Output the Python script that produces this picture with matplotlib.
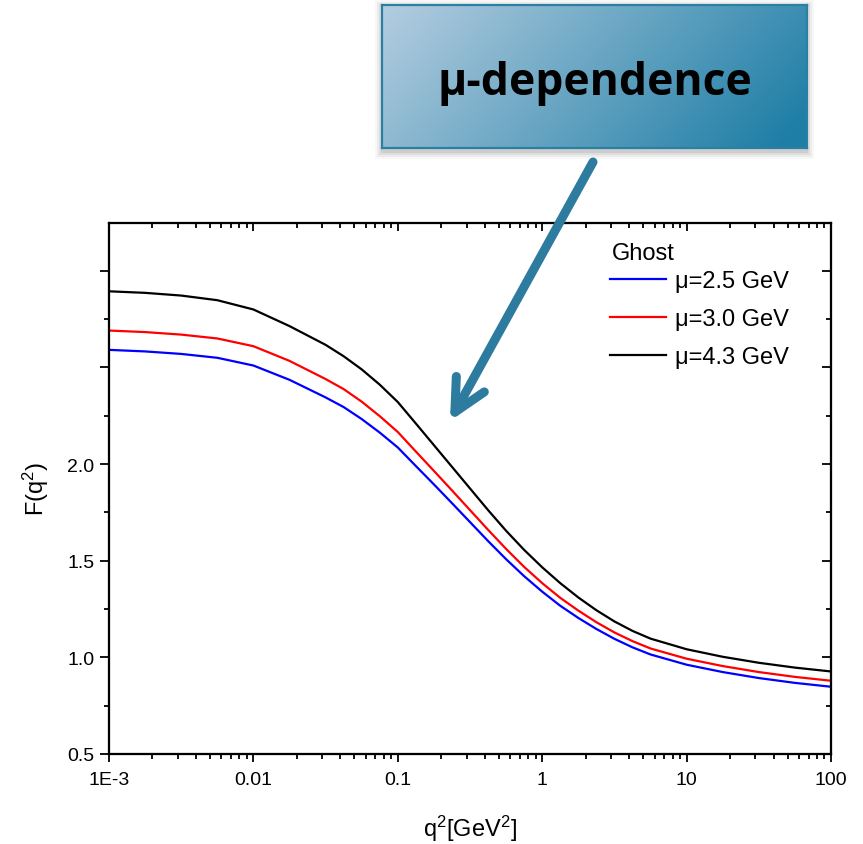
import numpy as np
import matplotlib
matplotlib.use("Agg")
import matplotlib.pyplot as plt
from matplotlib.patches import Rectangle, FancyArrowPatch, ArrowStyle
from matplotlib.ticker import LogLocator, NullFormatter

plt.rcParams['font.family'] = ['Liberation Sans', 'DejaVu Sans']
plt.rcParams['mathtext.default'] = 'regular'

# ghost dressing function F(q^2) for three renormalisation scales
log_q2 = [-3, -2.75, -2.5, -2.25, -2, -1.75, -1.5, -1.375, -1.25, -1.125, -1,
          -0.875, -0.75, -0.625, -0.5, -0.375, -0.25, -0.125, 0, 0.125, 0.25,
          0.375, 0.5, 0.625, 0.75, 1, 1.25, 1.5, 1.75, 2]
F_mu25 = [2.591, 2.583, 2.570, 2.550, 2.510, 2.436, 2.345, 2.295, 2.233, 2.163, 2.086,
          1.990, 1.895, 1.798, 1.700, 1.602, 1.508, 1.420, 1.340, 1.267, 1.204,
          1.147, 1.096, 1.052, 1.015, 0.962, 0.924, 0.893, 0.868, 0.848]
F_mu30 = [2.691, 2.683, 2.670, 2.650, 2.610, 2.534, 2.440, 2.388, 2.323, 2.248, 2.166,
          2.065, 1.965, 1.864, 1.762, 1.660, 1.561, 1.468, 1.384, 1.308, 1.242,
          1.182, 1.129, 1.084, 1.046, 0.993, 0.955, 0.924, 0.899, 0.879]
F_mu43 = [2.894, 2.886, 2.872, 2.848, 2.800, 2.714, 2.617, 2.558, 2.490, 2.411, 2.321,
          2.210, 2.098, 1.986, 1.874, 1.762, 1.655, 1.556, 1.466, 1.384, 1.310,
          1.244, 1.186, 1.137, 1.097, 1.042, 1.003, 0.972, 0.947, 0.927]
labels = ['\u03bc=2.5 GeV', '\u03bc=3.0 GeV', '\u03bc=4.3 GeV']
colors = ['#0000ff', '#ff0000', '#000000']

xticks = [1e-3, 1e-2, 1e-1, 1, 10, 100]
xticklabels = ['1E-3', '0.01', '0.1', '1', '10', '100']
yticks = [0.5, 1.0, 1.5, 2.0, 2.5, 3.0]
yticklabels = ['0.5', '1.0', '1.5', '2.0', '', '']

q2 = 10.0 ** np.array(log_q2)

W, H = 863, 845
fig = plt.figure(figsize=(W / 100, H / 100), dpi=100)
ax = fig.add_axes([109 / W, 1 - 755 / H, (831 - 109) / W, (755 - 223.5) / H])

for ys, lab, c in zip([F_mu25, F_mu30, F_mu43], labels, colors):
    ax.plot(q2, ys, color=c, lw=1.6, label=lab)

ax.set_xscale('log')
ax.set_xlim(1e-3, 100)
ax.set_ylim(0.5, 3.25)
ax.set_xticks(xticks)
ax.set_xticklabels(xticklabels)
ax.xaxis.set_minor_locator(LogLocator(base=10, subs=np.arange(2, 10) * 1.0, numticks=50))
ax.xaxis.set_minor_formatter(NullFormatter())
ax.set_yticks(yticks)
ax.set_yticklabels(yticklabels)
ax.set_yticks(np.arange(0.75, 3.25, 0.5), minor=True)

for s in ax.spines.values():
    s.set_linewidth(1.5)
ax.tick_params(which='both', labelsize=14, width=1.3, direction='out')
ax.tick_params(axis='x', which='major', length=6, pad=6)
ax.tick_params(axis='x', which='minor', length=3.5)
ax.tick_params(axis='y', which='major', length=6.5, pad=4)
ax.tick_params(axis='y', which='minor', length=3.5)

# inward ticks on the top and right spines
axt = ax.twiny()
axt.set_xscale('log')
axt.set_xlim(ax.get_xlim())
axt.set_xticks(xticks)
axt.xaxis.set_minor_locator(LogLocator(base=10, subs=np.arange(2, 10) * 1.0, numticks=50))
axt.tick_params(axis='x', which='both', direction='in', width=1.3,
                labeltop=False, labelbottom=False)
axt.tick_params(axis='x', which='major', length=6)
axt.tick_params(axis='x', which='minor', length=3.5)
axr = ax.twinx()
axr.set_ylim(ax.get_ylim())
axr.set_yticks(yticks)
axr.set_yticks(np.arange(0.75, 3.25, 0.5), minor=True)
axr.tick_params(axis='y', which='both', direction='in', width=1.3,
                labelright=False, labelleft=False)
axr.tick_params(axis='y', which='major', length=6.5)
axr.tick_params(axis='y', which='minor', length=3.5)
for a in (axt, axr):
    for s in a.spines.values():
        s.set_linewidth(1.5)

ax.set_xlabel('q$^2$[GeV$^2$]', fontsize=17, labelpad=18)
ax.set_ylabel('F(q$^2$)', fontsize=17, labelpad=12)

ax.text(0.697, 0.942, 'Ghost', transform=ax.transAxes, fontsize=17,
        ha='left', va='center')
leg = ax.legend(loc='upper left', bbox_to_anchor=(0.694, 0.911),
                frameon=False, fontsize=17, handlelength=2.35,
                handletextpad=0.4, labelspacing=0.68,
                borderpad=0, borderaxespad=0)

# gradient title box with a soft shadow
bx0, by0, bx1, by1 = 382, 6, 807, 149
for k, a in enumerate([0.04, 0.06, 0.08, 0.10]):
    off = 8 - 2 * k
    fig.patches.append(Rectangle(((bx0 - off + 1) / W, 1 - (by1 + off + 3) / H),
                                 (bx1 - bx0 + 2 * off - 2) / W, (by1 - by0 + 2 * off) / H,
                                 transform=fig.transFigure, color='#404040',
                                 alpha=a, lw=0, zorder=1))
bax = fig.add_axes([bx0 / W, 1 - by1 / H, (bx1 - bx0) / W, (by1 - by0) / H], zorder=5)
gx, gy = np.meshgrid(np.linspace(0, 1, 200), np.linspace(0, 1, 80))
t = np.clip(0.8 * gx + 0.25 * gy, 0, 1)
c0 = np.array([180, 205, 224]) / 255
c1 = np.array([30, 126, 166]) / 255
img = c0[None, None, :] * (1 - t[..., None]) + c1[None, None, :] * t[..., None]
bax.imshow(img, aspect='auto', extent=(0, 1, 0, 1), origin='upper')
bax.set_xticks([])
bax.set_yticks([])
for s in bax.spines.values():
    s.set_color('#2b7fa3')
    s.set_linewidth(1.6)
bax.text(0.5, 0.46, '\u03bc-dependence', ha='center', va='center', fontsize=32,
         fontweight='bold', family=['Open Sans', 'DejaVu Sans'], color='black')

# arrow pointing at the curves
arrow = FancyArrowPatch((593 / W, 1 - 163 / H), (450 / W, 1 - 422 / H),
                        transform=fig.transFigure,
                        arrowstyle=ArrowStyle('->', head_length=2.3, head_width=1.15),
                        mutation_scale=10, color='#2d7b9e', lw=6.5, shrinkA=0, shrinkB=0,
                        capstyle='round', joinstyle='round', zorder=10)
fig.patches.append(arrow)

fig.savefig('out.png', dpi=100)
